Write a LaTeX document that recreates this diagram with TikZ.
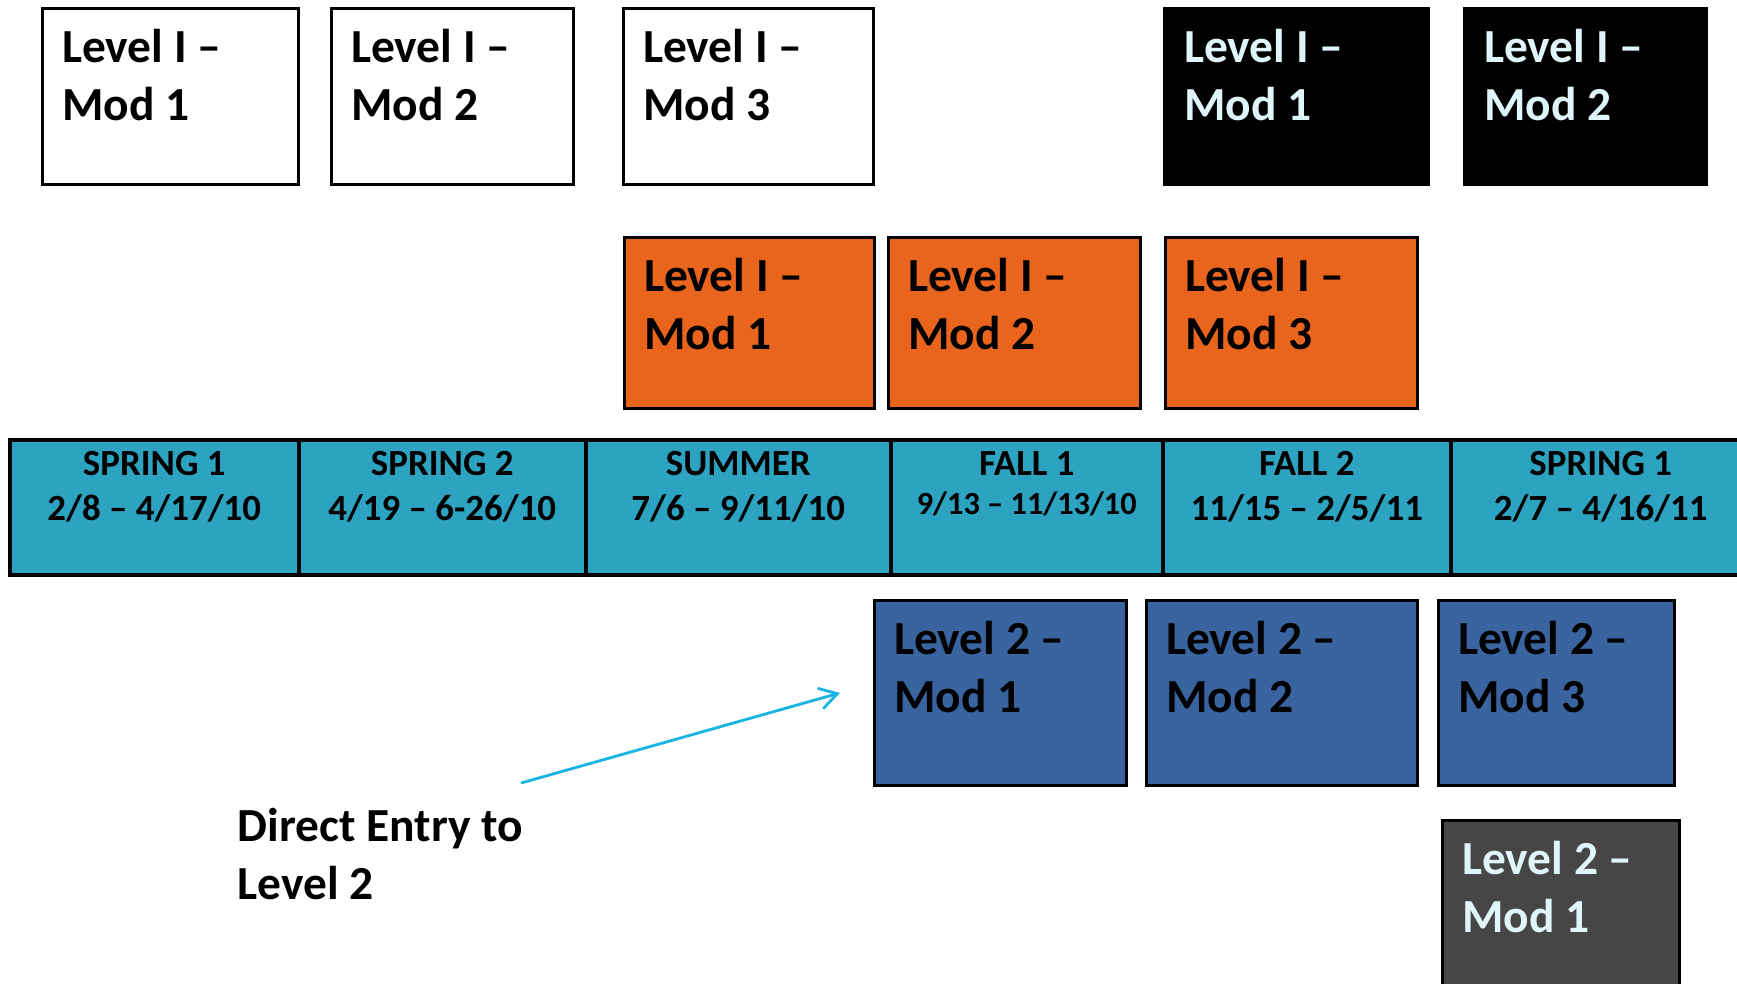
\documentclass[tikz,border=0pt]{standalone}
\usepackage{fontspec}
\setmainfont{Carlito}
\usepackage{tikz}
\usetikzlibrary{arrows.meta}

\definecolor{termblue}{RGB}{44,163,192}
\definecolor{modorange}{RGB}{233,101,30}
\definecolor{modblue}{RGB}{58,100,160}
\definecolor{modgray}{RGB}{70,70,70}
\definecolor{lighttext}{RGB}{224,245,250}
\definecolor{arrowcyan}{RGB}{24,180,228}

\begin{document}
\begin{tikzpicture}[
  mod/.style={draw=black, line width=0.8pt, anchor=north west, inner sep=0pt, minimum height=1.76cm},
  bigtext/.style={anchor=north west, inner sep=0pt, align=left, font=\fontsize{13.5}{16.7}\selectfont\bfseries},
  modtext/.style={bigtext, xshift=0.205cm, yshift=-0.21cm},
  term/.style={draw=black, line width=1pt, fill=termblue, anchor=north west, inner sep=0pt, minimum height=1.35cm},
  termtext/.style={anchor=north, inner sep=0pt, align=center, font=\fontsize{10.5}{12.7}\selectfont\bfseries, yshift=-0.125cm}
]
\useasboundingbox (0,0) rectangle (17.37,-9.83);

% top row: level I
\node[mod, fill=white, minimum width=2.56cm] (w1) at (0.41,-0.07) {};
\node[modtext] (w1t) at (w1.north west) {Level I --\\Mod 1};
\node[mod, fill=white, minimum width=2.42cm] (w2) at (3.30,-0.07) {};
\node[modtext] (w2t) at (w2.north west) {Level I --\\Mod 2};
\node[mod, fill=white, minimum width=2.50cm] (w3) at (6.22,-0.07) {};
\node[modtext] (w3t) at (w3.north west) {Level I --\\Mod 3};
\node[mod, fill=black, minimum width=2.64cm] (k1) at (11.63,-0.07) {};
\node[modtext, text=lighttext] (k1t) at (k1.north west) {Level I --\\Mod 1};
\node[mod, fill=black, minimum width=2.42cm] (k2) at (14.63,-0.07) {};
\node[modtext, text=lighttext] (k2t) at (k2.north west) {Level I --\\Mod 2};

% second row: level I, orange
\node[mod, fill=modorange, minimum width=2.50cm, minimum height=1.71cm] (o1) at (6.23,-2.36) {};
\node[modtext] (o1t) at (o1.north west) {Level I --\\Mod 1};
\node[mod, fill=modorange, minimum width=2.52cm, minimum height=1.71cm] (o2) at (8.87,-2.36) {};
\node[modtext] (o2t) at (o2.north west) {Level I --\\Mod 2};
\node[mod, fill=modorange, minimum width=2.52cm, minimum height=1.71cm] (o3) at (11.64,-2.36) {};
\node[modtext] (o3t) at (o3.north west) {Level I --\\Mod 3};

% terms
\node[term, minimum width=2.89cm] (t1) at (0.08,-4.38) {};
\node[termtext] (t1t) at (t1.north) {SPRING 1\\2/8 -- 4/17/10};
\node[term, minimum width=2.87cm] (t2) at (2.97,-4.38) {};
\node[termtext] (t2t) at (t2.north) {SPRING 2\\4/19 -- 6-26/10};
\node[term, minimum width=3.05cm] (t3) at (5.84,-4.38) {};
\node[termtext] (t3t) at (t3.north) {SUMMER\\7/6 -- 9/11/10};
\node[term, minimum width=2.72cm] (t4) at (8.89,-4.38) {};
\node[termtext] (t4t) at (t4.north) {FALL 1\\[-1.6pt]{\fontsize{9.2}{11}\selectfont 9/13 -- 11/13/10}};
\node[term, minimum width=2.88cm] (t5) at (11.61,-4.38) {};
\node[termtext] (t5t) at (t5.north) {FALL 2\\11/15 -- 2/5/11};
\node[term, minimum width=3.00cm] (t6) at (14.49,-4.38) {};
\node[termtext] (t6t) at (t6.north) {SPRING 1\\2/7 -- 4/16/11};

% level 2
\node[mod, fill=modblue, minimum width=2.52cm, minimum height=1.85cm] (b1) at (8.73,-5.99) {};
\node[modtext] (b1t) at (b1.north west) {Level 2 --\\Mod 1};
\node[mod, fill=modblue, minimum width=2.71cm, minimum height=1.85cm] (b2) at (11.45,-5.99) {};
\node[modtext] (b2t) at (b2.north west) {Level 2 --\\Mod 2};
\node[mod, fill=modblue, minimum width=2.36cm, minimum height=1.85cm] (b3) at (14.37,-5.99) {};
\node[modtext] (b3t) at (b3.north west) {Level 2 --\\Mod 3};
\node[mod, fill=modgray, minimum width=2.37cm, minimum height=1.80cm] (g1) at (14.41,-8.19) {};
\node[modtext, text=lighttext] (g1t) at (g1.north west) {Level 2 --\\Mod 1};

% direct entry
\node[bigtext] (direct) at (2.37,-8.07) {Direct Entry to\\Level 2};
\coordinate (entry) at (5.21,-7.83);
\draw[-{Straight Barb[length=5pt,width=6pt]}, line width=0.8pt, arrowcyan] (entry) -- ([xshift=-0.33cm]b1.west);
\end{tikzpicture}
\end{document}
